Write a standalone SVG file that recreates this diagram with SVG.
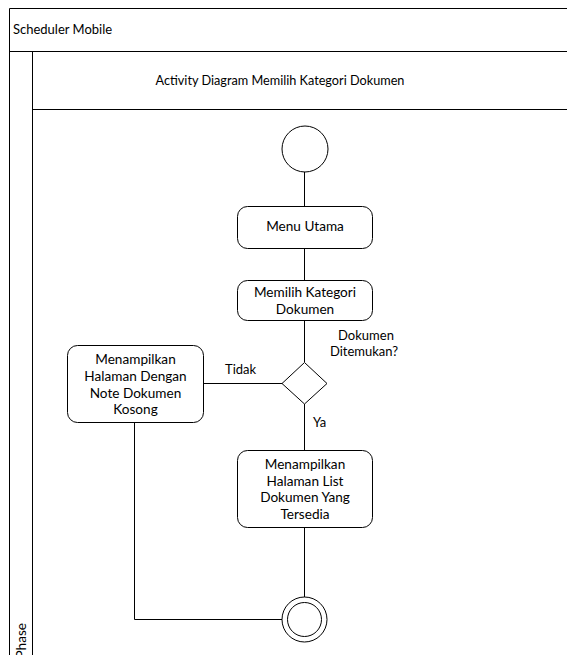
<svg xmlns="http://www.w3.org/2000/svg" width="567" height="655" viewBox="0 0 567 655">
<style>
text{font-family:Lato,"Open Sans",sans-serif;font-size:13px;fill:#000}
.c{text-anchor:middle}
.b{font-size:13.6px}
.l{font-size:13px}
.t{font-size:12.7px}
.ln{fill:none;stroke:#000;stroke-width:1}
.box{fill:#fff;stroke:#000;stroke-width:1}
</style>
<rect width="567" height="655" fill="#fff"/>
<g id="frame">
<path class="ln" d="M567,8.5 H9.5 V655 M9.5,51.5 H567 M32.5,51.5 V655 M32.5,109.5 H567"/>
<text x="13" y="34" class="l">Scheduler Mobile</text>
<text class="c t" x="280" y="85">Activity Diagram Memilih Kategori Dokumen</text>
<text transform="translate(25.5,623) rotate(-90)" text-anchor="end" class="b">Phase</text>
</g>
<g id="connectors">
<path class="ln" d="M304.5,172 V206 M304.5,249 V280 M304.5,320 V362 M304.5,404 V450 M304.5,527 V597 M282,383.5 H204 M134.5,422 V619.5 H282"/>
<text x="225" y="374" class="l">Tidak</text>
<text x="313" y="427" class="l">Ya</text>
<text class="c l" x="366" y="340">Dokumen</text>
<text class="c l" x="364" y="356">Ditemukan?</text>
</g>
<g id="start"><circle class="box" cx="305" cy="149" r="23"/></g>
<g id="menu"><rect class="box" x="237.5" y="206.5" width="135" height="42" rx="10"/><text class="c b" x="305" y="231">Menu Utama</text></g>
<g id="pilih"><rect class="box" x="237.5" y="280.5" width="135" height="40" rx="10"/><text class="c b" x="305" y="297">Memilih Kategori</text><text class="c b" x="305" y="314">Dokumen</text></g>
<g id="decision"><path class="box" d="M304.5,362.5 L327,383.5 L304.5,404 L282,383.5 Z"/></g>
<g id="kosong"><rect class="box" x="67.5" y="345.5" width="136" height="77" rx="10"/>
<text class="c b" x="135.5" y="364">Menampilkan</text><text class="c b" x="135.5" y="381">Halaman Dengan</text><text class="c b" x="135.5" y="397.5">Note Dokumen</text><text class="c b" x="135.5" y="414">Kosong</text></g>
<g id="list"><rect class="box" x="237.5" y="450.5" width="135" height="77" rx="10"/>
<text class="c b" x="305" y="469">Menampilkan</text><text class="c b" x="305" y="485.5">Halaman List</text><text class="c b" x="305" y="502">Dokumen Yang</text><text class="c b" x="305" y="518.5">Tersedia</text></g>
<g id="end"><circle class="box" cx="304.5" cy="619.5" r="22.5"/><circle class="box" cx="304.5" cy="619.5" r="17"/></g>
</svg>
